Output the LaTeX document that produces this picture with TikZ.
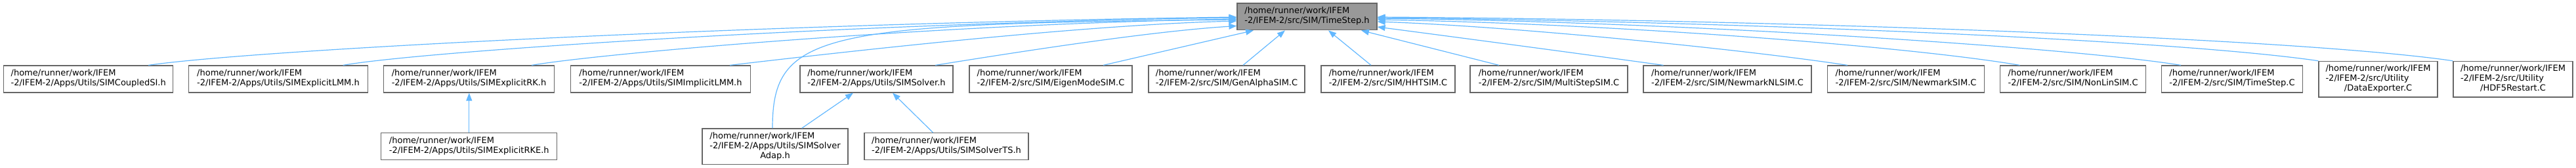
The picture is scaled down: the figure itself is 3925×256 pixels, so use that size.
\documentclass[tikz,border=0pt]{standalone}
\usepackage{fontspec}
\setmainfont{DejaVu Sans}
\usetikzlibrary{arrows.meta,calc}
\definecolor{edgeblue}{HTML}{63B8FF}
\definecolor{boxgray}{HTML}{666666}
\definecolor{mainfill}{HTML}{999999}
\newcommand{\twol}[2]{\begin{tabular}{@{}l@{}}#1\\#2\end{tabular}}
\newcommand{\threel}[3]{\begin{tabular}{@{}l@{}}#1\\#2\\\multicolumn{1}{@{}c@{}}{#3}\end{tabular}}
\tikzset{
  box/.style={draw=boxgray, fill=white, line width=1.2pt, inner sep=0pt,
    font=\fontsize{13}{15}\selectfont, text=black, minimum width=#1, minimum height=41pt},
  tallbox/.style={box=#1, minimum height=54.7pt},
  edge/.style={draw=edgeblue, line width=1.2pt, -{Triangle[length=12pt,width=9pt]}}
}
\begin{document}
\begin{tikzpicture}[x=1pt,y=-1pt]
\useasboundingbox (0,0) rectangle (3925,256);
% main node
\node[box=213pt, fill=mainfill, minimum height=40.7pt] (ts) at (1991.5,25.4)
  {\twol{/home/runner/work/IFEM}{-2/IFEM-2/src/SIM/TimeStep.h}};
% row 2
\node[box=258pt] (a1) at (134.7,120.5) {\twol{/home/runner/work/IFEM}{-2/IFEM-2/Apps/Utils/SIMCoupledSI.h}};
\node[box=273pt] (a2) at (424,120.5) {\twol{/home/runner/work/IFEM}{-2/IFEM-2/Apps/Utils/SIMExplicitLMM.h}};
\node[box=260pt] (a3) at (714.5,120.5) {\twol{/home/runner/work/IFEM}{-2/IFEM-2/Apps/Utils/SIMExplicitRK.h}};
\node[box=274.6pt] (a4) at (1006.5,120.5) {\twol{/home/runner/work/IFEM}{-2/IFEM-2/Apps/Utils/SIMImplicitLMM.h}};
\node[box=233pt] (a5) at (1335.5,120.5) {\twol{/home/runner/work/IFEM}{-2/IFEM-2/Apps/Utils/SIMSolver.h}};
\node[box=248pt] (a6) at (1601,120.5) {\twol{/home/runner/work/IFEM}{-2/IFEM-2/src/SIM/EigenModeSIM.C}};
\node[box=238pt] (a7) at (1869,120.5) {\twol{/home/runner/work/IFEM}{-2/IFEM-2/src/SIM/GenAlphaSIM.C}};
\node[box=204pt] (a8) at (2115,120.5) {\twol{/home/runner/work/IFEM}{-2/IFEM-2/src/SIM/HHTSIM.C}};
\node[box=240pt] (a9) at (2360,120.5) {\twol{/home/runner/work/IFEM}{-2/IFEM-2/src/SIM/MultiStepSIM.C}};
\node[box=256pt] (a10) at (2632,120.5) {\twol{/home/runner/work/IFEM}{-2/IFEM-2/src/SIM/NewmarkNLSIM.C}};
\node[box=239pt] (a11) at (2904,120.5) {\twol{/home/runner/work/IFEM}{-2/IFEM-2/src/SIM/NewmarkSIM.C}};
\node[box=222pt] (a12) at (3158.6,120.5) {\twol{/home/runner/work/IFEM}{-2/IFEM-2/src/SIM/NonLinSIM.C}};
\node[box=214.5pt] (a13) at (3401,120.5) {\twol{/home/runner/work/IFEM}{-2/IFEM-2/src/SIM/TimeStep.C}};
\node[tallbox=181pt] (a14) at (3623.5,120.7) {\threel{/home/runner/work/IFEM}{-2/IFEM-2/src/Utility}{/DataExporter.C}};
\node[tallbox=182pt] (a15) at (3829,120.7) {\threel{/home/runner/work/IFEM}{-2/IFEM-2/src/Utility}{/HDF5Restart.C}};
% row 3
\node[box=268pt, minimum height=40.6pt] (b1) at (714.8,223) {\twol{/home/runner/work/IFEM}{-2/IFEM-2/Apps/Utils/SIMExplicitRKE.h}};
\node[tallbox=222pt] (b2) at (1181,223.3) {\threel{/home/runner/work/IFEM}{-2/IFEM-2/Apps/Utils/SIMSolver}{Adap.h}};
\node[box=250pt, minimum height=40.6pt] (b3) at (1442,223) {\twol{/home/runner/work/IFEM}{-2/IFEM-2/Apps/Utils/SIMSolverTS.h}};
% edges into TimeStep.h, left side
\draw[edge] ($(a1.north)+(91.3,0)$) .. controls +(174,-25) and +(-685,9) .. ($(ts.west)+(0,0.6)$);
\draw[edge] ($(a2.north)+(98.6,0)$) .. controls +(127,-22) and +(-585,8) .. ($(ts.west)+(0,1.6)$);
\draw[edge] ($(a3.north)+(95.5,0)$) .. controls +(120,-20) and +(-435,7) .. ($(ts.west)+(0,3.6)$);
\draw[edge] ($(a4.north)+(105.5,0)$) .. controls +(188,-22) and +(-235,6) .. ($(ts.west)+(0,6.6)$);
\draw[edge] ($(b2.north)+(-4,0)$) .. controls +(0,-146) and +(-635,6) .. ($(ts.west)+(0,4.6)$);
\draw[edge] ($(a5.north)+(89.5,0)$) .. controls +(125,-20) and +(-135,8.5) .. ($(ts.west)+(0,14.1)$);
% bottom side
\draw[edge] ($(a6.north)+(80,0)$) -- ($(ts.south)+(-81.5,0)$);
\draw[edge] ($(a7.north)+(25,0)$) -- ($(ts.south)+(-33.5,0)$);
\draw[edge] ($(a8.north)+(-26,0)$) -- ($(ts.south)+(32.5,0)$);
\draw[edge] ($(a9.north)+(-76,0)$) -- ($(ts.south)+(82.5,0)$);
% right side
\draw[edge] ($(a10.north)+(-97.5,0)$) .. controls +(-145,-20) and +(145,19) .. ($(ts.east)+(0,15.6)$);
\draw[edge] ($(a11.north)+(-89,0)$) .. controls +(-165,-25) and +(202,7) .. ($(ts.east)+(0,7.6)$);
\draw[edge] ($(a12.north)+(-81,0)$) .. controls +(-177.5,-30) and +(352,6) .. ($(ts.east)+(0,4.6)$);
\draw[edge] ($(a13.north)+(-78,0)$) .. controls +(-173,-28) and +(452,5) .. ($(ts.east)+(0,2.6)$);
\draw[edge] (a14.north west) .. controls +(-233,-34) and +(502,5) .. ($(ts.east)+(0,1.6)$);
\draw[edge] (a15.north west) .. controls +(-238,-35) and +(602,4) .. ($(ts.east)+(0,0.6)$);
% lower level
\draw[edge] (b1.north) -- (b1.north |- a3.south);
\draw[edge] ($(b2.north)+(40.7,0)$) -- ($(a5.south)+(-35.5,0)$);
\draw[edge] ($(b3.north)+(-20.3,0)$) -- ($(a5.south)+(24.5,0)$);
\end{tikzpicture}
\end{document}
